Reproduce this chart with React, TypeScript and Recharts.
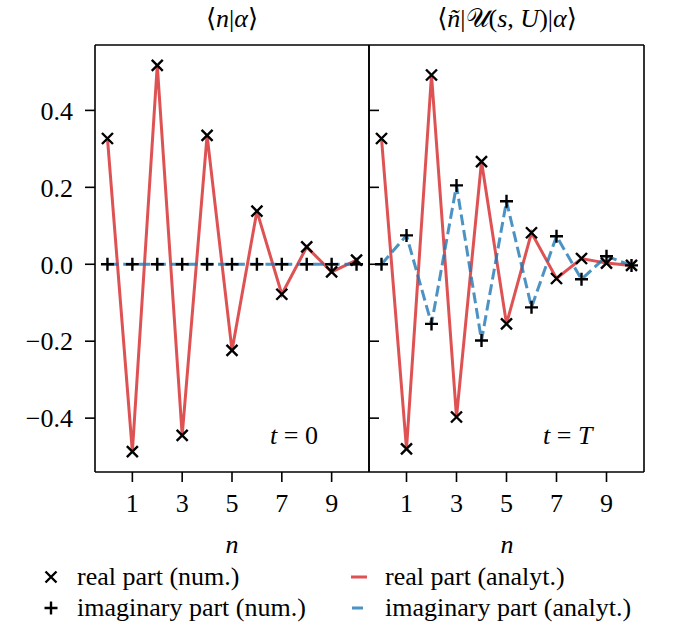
import React from 'react';
import { ComposedChart, Line, Scatter, XAxis, YAxis } from 'recharts';

const nValues = [0, 1, 2, 3, 4, 5, 6, 7, 8, 9, 10];
const realAtZero = [0.327, -0.487, 0.517, -0.445, 0.335, -0.224, 0.138, -0.078, 0.045, -0.02, 0.011];
const imagAtZero = [0, 0, 0, 0, 0, 0, 0, 0, 0, 0, 0];
const realAtT = [0.327, -0.48, 0.492, -0.397, 0.267, -0.155, 0.082, -0.037, 0.015, 0.003, -0.003];
const imagAtT = [0.0, 0.075, -0.155, 0.205, -0.198, 0.164, -0.112, 0.073, -0.039, 0.021, -0.003];

const xTicks = [1, 3, 5, 7, 9];
const yTicks = [-0.4, -0.2, 0, 0.2, 0.4];
const xDomain: [number, number] = [-0.5, 10.5];
const yDomain: [number, number] = [-0.54, 0.57];

const legendLabels = [
  'real part (num.)',
  'imaginary part (num.)',
  'real part (analyt.)',
  'imaginary part (analyt.)',
];

const FONT = "'Liberation Serif', 'DejaVu Serif', serif";
const RED = '#d62728';
const BLUE = '#1f77b4';
const FRAME = { stroke: '#000', strokeWidth: 1.6 };

const buildRows = (re: number[], im: number[]) =>
  nValues.map((n, i) => ({ n, re: re[i], im: im[i] }));

const leftRows = buildRows(realAtZero, imagAtZero);
const rightRows = buildRows(realAtT, imagAtT);

const NoTick = () => <g />;

const Cross = (props: any) => {
  const { cx, cy } = props;
  const s = 5.5;
  return (
    <path d={`M${cx - s},${cy - s}L${cx + s},${cy + s}M${cx - s},${cy + s}L${cx + s},${cy - s}`} stroke="#000" strokeWidth={2.4} fill="none" />
  );
};

const Plus = (props: any) => {
  const { cx, cy } = props;
  const s = 6.5;
  return (
    <path d={`M${cx - s},${cy}L${cx + s},${cy}M${cx},${cy - s}L${cx},${cy + s}`} stroke="#000" strokeWidth={2.4} fill="none" />
  );
};

const fmtY = (v: number) => {
  const s = Math.abs(v).toFixed(1);
  return v < 0 ? '\u2212' + s : s;
};

const tickStyle = { fill: '#000', fontSize: 26, style: { fontFamily: FONT } };

function Panel({ rows, first }: { rows: any[]; first: boolean }) {
  return (
    <ComposedChart width={first ? 370 : 277} height={627} data={rows} margin={{ top: 44, right: 0, bottom: 95, left: 0 }}>
      <XAxis dataKey="n" type="number" domain={xDomain} ticks={xTicks} interval={0} allowDataOverflow height={60} tickSize={10} tickMargin={12} axisLine={FRAME} tickLine={FRAME} tick={tickStyle} />
      <XAxis xAxisId="top" orientation="top" type="number" domain={xDomain} ticks={xTicks} height={1} tick={NoTick} tickLine={false} axisLine={FRAME} />
      {first ? (
        <YAxis type="number" domain={yDomain} ticks={yTicks} interval={0} allowDataOverflow width={95} tickSize={10} tickMargin={12} tickFormatter={fmtY} axisLine={FRAME} tickLine={FRAME} tick={tickStyle} />
      ) : (
        <YAxis type="number" domain={yDomain} ticks={yTicks} interval={0} allowDataOverflow width={1} tickSize={-10} tick={NoTick} axisLine={FRAME} tickLine={FRAME} />
      )}
      {first ? (
        <YAxis yAxisId="r" orientation="right" type="number" domain={yDomain} ticks={yTicks} interval={0} width={1} tickSize={-10} tick={NoTick} axisLine={FRAME} tickLine={FRAME} />
      ) : (
        <YAxis yAxisId="r" orientation="right" type="number" domain={yDomain} ticks={yTicks} width={1} tick={NoTick} tickLine={false} axisLine={FRAME} />
      )}
      <Line dataKey="re" type="linear" stroke={RED} strokeOpacity={0.8} strokeWidth={3} dot={false} activeDot={false} isAnimationActive={false} />
      <Line dataKey="im" type="linear" stroke={BLUE} strokeOpacity={0.8} strokeWidth={3} strokeDasharray="11 4.8" dot={false} activeDot={false} isAnimationActive={false} />
      <Scatter dataKey="re" shape={Cross} isAnimationActive={false} />
      <Scatter dataKey="im" shape={Plus} isAnimationActive={false} />
    </ComposedChart>
  );
}

export default function App() {
  const it = { fontStyle: 'italic' as const };
  const ts = { fontFamily: FONT, fontSize: 26 };
  const legendText = (left: number, top: number, label: string) => (
    <div
      style={{
        position: 'absolute',
        left,
        top,
        fontFamily: FONT,
        fontSize: 26,
        lineHeight: '30px',
        whiteSpace: 'nowrap',
        color: '#000',
      }}
    >
      {label}
    </div>
  );
  return (
    <div style={{ position: 'absolute', left: 0, top: 0, width: 680, height: 627, background: '#fff' }}>
      <div style={{ position: 'absolute', left: 0, top: 0 }}>
        <Panel rows={leftRows} first />
      </div>
      <div style={{ position: 'absolute', left: 368, top: 0 }}>
        <Panel rows={rightRows} first={false} />
      </div>
      <svg width={680} height={627} style={{ position: 'absolute', left: 0, top: 0, pointerEvents: 'none' }}>
        <text x={232} y={27} textAnchor="middle" style={ts}>
          ⟨<tspan style={it}>n</tspan>|<tspan style={it}>α</tspan>⟩
        </text>
        <text x={507} y={27} textAnchor="middle" style={ts}>
          ⟨<tspan style={it}>ñ</tspan>|𝒰(<tspan style={it}>s</tspan>, <tspan style={it}>U</tspan>)|<tspan style={it}>α</tspan>⟩
        </text>
        <text x={270} y={444} style={ts}>
          <tspan style={it}>t</tspan> = 0
        </text>
        <text x={543} y={444} style={ts}>
          <tspan style={it}>t</tspan> = <tspan style={it}>T</tspan>
        </text>
        <text x={232} y={553} textAnchor="middle" style={{ ...ts, ...it }}>n</text>
        <text x={507} y={553} textAnchor="middle" style={{ ...ts, ...it }}>n</text>

        <Cross cx={51} cy={577} />
        <Plus cx={51} cy={608} />
        <line x1={351} x2={367} y1={577} y2={577} stroke={RED} strokeOpacity={0.8} strokeWidth={3} />
        <line x1={352} x2={363} y1={608} y2={608} stroke={BLUE} strokeOpacity={0.8} strokeWidth={3} />
      </svg>
      {legendText(77, 562, legendLabels[0])}
      {legendText(77, 593, legendLabels[1])}
      {legendText(385, 562, legendLabels[2])}
      {legendText(385, 593, legendLabels[3])}
    </div>
  );
}
